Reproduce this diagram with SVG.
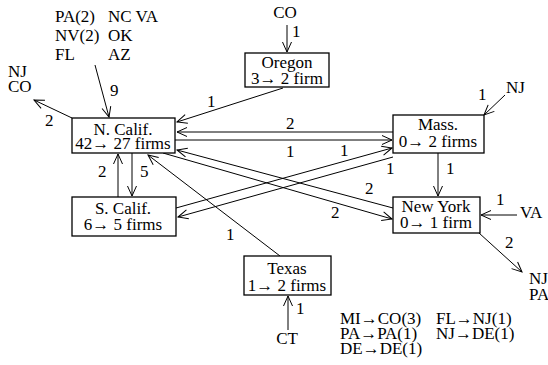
<svg xmlns="http://www.w3.org/2000/svg" width="548" height="365" viewBox="0 0 548 365" font-family="'Liberation Serif', 'Times New Roman', Times, serif">
<style>
text{font-family:'Liberation Serif','Times New Roman',Times,serif;font-size:17px;fill:#000}
.c{text-anchor:middle}
rect{fill:#fff;stroke:#000;stroke-width:1.3}
line{stroke:#000;stroke-width:1}
.a{marker-end:url(#ah)}
</style>
<defs>
<marker id="ah" viewBox="0 0 12 12" refX="11" refY="6" markerWidth="12" markerHeight="12" orient="auto" markerUnits="userSpaceOnUse">
<path d="M1,1.5 L11,6 L1,10.5" fill="none" stroke="#000" stroke-width="1"/>
</marker>
</defs>
<rect x="0" y="0" width="548" height="365" style="stroke:none;fill:#fff"/>
<g id="connectors">
<line class="a" x1="287" y1="25" x2="287" y2="52"/>
<text x="292" y="37">1</text>
<line class="a" x1="95" y1="65" x2="109" y2="117"/>
<text x="110" y="96">9</text>
<line class="a" x1="72" y1="118" x2="34" y2="100"/>
<text x="45" y="126">2</text>
<line class="a" x1="283" y1="88" x2="177" y2="122"/>
<text x="207" y="107">1</text>
<line class="a" x1="393" y1="132" x2="177" y2="132"/>
<text x="286" y="129">2</text>
<line class="a" x1="175" y1="140" x2="392" y2="140"/>
<text x="286" y="157">1</text>
<line class="a" x1="393" y1="208" x2="177" y2="150"/>
<text x="365" y="194">2</text>
<line class="a" x1="163" y1="153" x2="392" y2="219"/>
<text x="331" y="218">2</text>
<line class="a" x1="176" y1="208" x2="392" y2="148"/>
<text x="340" y="156">1</text>
<line class="a" x1="393" y1="157" x2="178" y2="217"/>
<text x="386" y="174">1</text>
<line class="a" x1="280" y1="256" x2="148" y2="155"/>
<text x="226" y="240">1</text>
<line class="a" x1="118" y1="197" x2="118" y2="154"/>
<text x="98" y="177">2</text>
<line class="a" x1="132" y1="153" x2="132" y2="196"/>
<text x="140" y="177">5</text>
<line class="a" x1="505" y1="95" x2="484" y2="115"/>
<text x="478" y="100">1</text>
<line class="a" x1="438" y1="153" x2="438" y2="196"/>
<text x="446" y="174">1</text>
<line class="a" x1="517" y1="215" x2="481" y2="215"/>
<text x="496" y="205">1</text>
<line class="a" x1="479" y1="233" x2="522" y2="272"/>
<text x="505" y="248">2</text>
<line class="a" x1="288" y1="330" x2="288" y2="296"/>
<text x="296" y="314">1</text>
</g>
<g id="labels">
<text x="285" y="18" class="c">CO</text>
<text x="55" y="22">PA(2)</text>
<text x="108" y="22">NC VA</text>
<text x="55" y="41">NV(2)</text>
<text x="108" y="41">OK</text>
<text x="55" y="60">FL</text>
<text x="108" y="60">AZ</text>
<text x="8" y="77">NJ</text>
<text x="8" y="92">CO</text>
<text x="506" y="93">NJ</text>
<text x="520" y="218">VA</text>
<text x="529" y="284">NJ</text>
<text x="529" y="300">PA</text>
<text x="287" y="344" class="c">CT</text>
<text x="340" y="324">MI→CO(3)</text>
<text x="436" y="324">FL→NJ(1)</text>
<text x="340" y="339">PA→PA(1)</text>
<text x="436" y="339">NJ→DE(1)</text>
<text x="340" y="354">DE→DE(1)</text>
</g>
<g id="oregon">
<rect x="245" y="53" width="84" height="34"/>
<text x="287" y="68" class="c">Oregon</text>
<text x="287" y="84" class="c">3→ 2 firm</text>
</g>
<g id="ncalif">
<rect x="72" y="118" width="103" height="35"/>
<text x="123" y="135" class="c">N. Calif.</text>
<text x="123" y="149" class="c">42→ 27 firms</text>
</g>
<g id="scalif">
<rect x="72" y="197" width="104" height="39"/>
<text x="123" y="214" class="c">S. Calif.</text>
<text x="123" y="230" class="c">6→ 5 firms</text>
</g>
<g id="mass">
<rect x="393" y="115" width="91" height="38"/>
<text x="438" y="130" class="c">Mass.</text>
<text x="438" y="147" class="c">0→ 2 firms</text>
</g>
<g id="newyork">
<rect x="393" y="197" width="87" height="36"/>
<text x="436" y="212" class="c">New York</text>
<text x="436" y="228" class="c">0→ 1 firm</text>
</g>
<g id="texas">
<rect x="244" y="256" width="87" height="39"/>
<text x="287" y="274" class="c">Texas</text>
<text x="287" y="291" class="c">1→ 2 firms</text>
</g>
</svg>
